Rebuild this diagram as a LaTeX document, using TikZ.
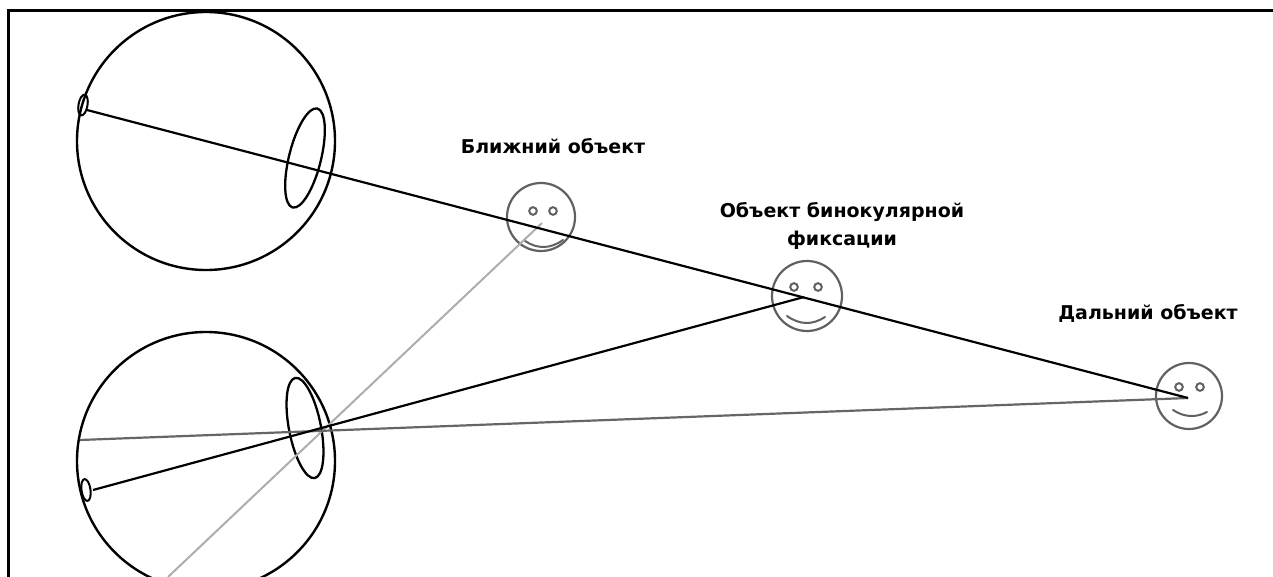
\documentclass[tikz,border=0pt]{standalone}
\usepackage{fontspec}
\newfontfamily\labelfont{DejaVu Sans}
\begin{document}
\begin{tikzpicture}[x=1pt,y=-1pt,
  eyeball/.style={draw=black,line width=2.4pt},
  lens/.style={draw=black,line width=2.3pt},
  face/.style={circle,draw=black!62,line width=2.2pt,inner sep=0pt},
  facepart/.style={draw=black!62,line width=2pt,line cap=round},
  ray/.style={black,line width=2.2pt},
  nearray/.style={black!32,line width=2pt},
  farray/.style={black!60,line width=2.2pt},
  lbl/.style={font=\labelfont\bfseries\fontsize{19}{28}\selectfont,align=center,inner sep=0pt}]
\useasboundingbox (0,0) rectangle (1273,577);
% frame
\draw[line width=3pt] (8,577) -- (8,11) -- (1273,11);

% upper eye
\draw[eyeball] (206,141) circle[radius=129];
\draw[lens,rotate around={-14:(305,158)}] (305,158) ellipse[x radius=16,y radius=51];
\draw[lens,line width=2pt,rotate around={-10:(83,105)}] (83,105) ellipse[x radius=4.5,y radius=10.5];
\coordinate (fovT) at (87,110);

% lower eye
\draw[eyeball] (206,461) circle[radius=129];
\draw[lens,rotate around={11:(305,428)}] (305,428) ellipse[x radius=16,y radius=51];
\draw[lens,line width=2pt,rotate around={8:(86,490)}] (86,490) ellipse[x radius=4.5,y radius=11];
\coordinate (fovB) at (93,490);
\coordinate (edgeB) at (80,440);
\coordinate (rayEnd) at (168,577);

% near object
\node[face,minimum size=68pt] (near) at (541,217) {};
\draw[facepart] (533,211) circle[radius=3.8] (553,211) circle[radius=3.8];
\draw[facepart] (525,241) .. controls (537.7,249.3) and (550.3,249) .. (563,240);
\coordinate (nearPt) at (542,223);
\node[lbl,anchor=base] (nearLbl) at (553,154) {Ближний объект};

% fixation object
\node[face,minimum size=70pt] (fix) at (807,296) {};
\draw[facepart] (794,287) circle[radius=3.8] (818,287) circle[radius=3.8];
\draw[facepart] (787,316) .. controls (799.7,325) and (812.3,325.3) .. (825,317);
\coordinate (fixPt) at (804,297);
\node[lbl,anchor=base] (fixLbl) at (842,245) {Объект бинокулярной\\фиксации};

% far object
\node[face,minimum size=66pt] (far) at (1189,396) {};
\draw[facepart] (1179,387) circle[radius=3.8] (1200,387) circle[radius=3.8];
\draw[facepart] (1173,410) .. controls (1184.3,417.3) and (1195.7,418) .. (1207,412);
\coordinate (farPt) at (1188,398);
\node[lbl,anchor=base] (farLbl) at (1148,319) {Дальний объект};

% lines of sight
\draw[nearray] (nearPt) -- (rayEnd);
\draw[farray] (edgeB) -- (farPt);
\draw[ray] (fovT) -- (farPt);
\draw[ray] (fovB) -- (fixPt);
\end{tikzpicture}
\end{document}
